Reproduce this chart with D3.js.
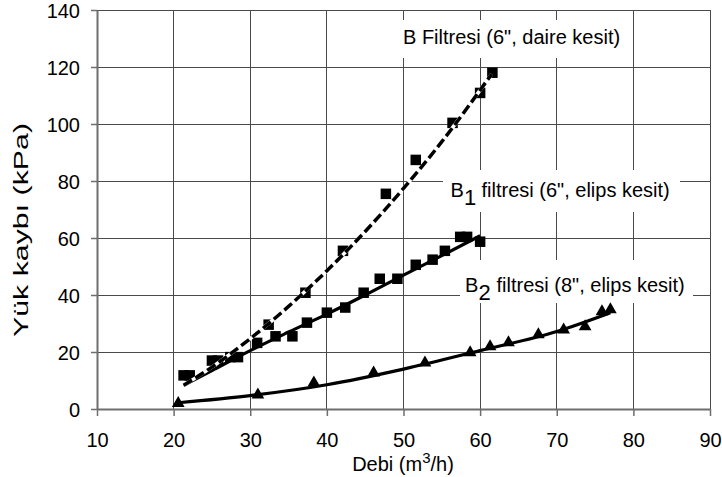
<!DOCTYPE html>
<html><head><meta charset="utf-8">
<script src="https://cdnjs.cloudflare.com/ajax/libs/d3/7.8.5/d3.min.js"></script>
<style>
body{margin:0;background:#fff;}
svg{display:block;font-family:"Liberation Sans",Arial,sans-serif;}
</style></head>
<body><svg id="c" width="722" height="477"></svg>
<script>
// ---- data ----
const xTicks = [10,20,30,40,50,60,70,80,90];
const yTicks = [0,20,40,60,80,100,120,140];

// B filtresi (6", daire kesit) - squares
const bX = [21.3, 25.0, 27.4, 32.4, 37.2, 42.1, 47.7, 51.6, 56.4, 60.0, 61.6];
const bY = [11.8, 17.0, 18.2, 29.6, 40.8, 55.5, 75.5, 87.4, 100.4, 110.9, 118.0];
// B fitted curve (dashed)
const bFitX = [21.3, 25, 30, 35, 40, 45, 50, 55, 61.5];
const bFitY = [8.3, 14.7, 24.7, 36.0, 48.5, 62.3, 77.4, 93.8, 117.5];

// B1 filtresi (6", elips kesit) - squares
const b1X = [22.1, 25.8, 28.4, 30.9, 33.3, 35.5, 37.4, 40.0, 42.4, 44.8, 46.9, 49.2, 51.6, 53.8, 55.4, 57.4, 58.3, 60.0];
const b1Y = [11.8, 17.0, 18.2, 23.2, 25.5, 25.5, 30.3, 33.8, 35.6, 40.8, 45.7, 45.7, 50.6, 52.4, 55.5, 60.4, 60.4, 58.7];
// B1 fitted curve (solid)
const b1FitX = [21.3, 25, 30, 35, 40, 45, 50, 55, 60];
const b1FitY = [8.3, 13.5, 20.5, 27.0, 33.3, 40.0, 47.0, 53.8, 60.8];

// B2 filtresi (8", elips kesit) - triangles
const b2X = [20.6, 31.0, 38.3, 46.1, 52.8, 58.7, 61.3, 63.7, 67.6, 70.9, 73.7, 75.9, 77.0];
const b2Y = [2.0, 5.0, 9.2, 12.7, 16.2, 19.8, 21.9, 23.3, 26.1, 27.8, 28.9, 34.2, 34.9];
// B2 fitted curve (solid)
const b2FitX = [20.6, 30, 40, 50, 60, 70, 77];
const b2FitY = [2.2, 4.7, 8.5, 14.0, 20.5, 27.2, 33.8];

// ---- drawing ----
const svg = d3.select("#c");
const L = 97, R = 710, T = 10, B = 409;
const x = d3.scaleLinear().domain([10,90]).range([L,R]);
const y = d3.scaleLinear().domain([0,140]).range([B,T]);
const zip = (a,b)=>a.map((v,i)=>[v,b[i]]);

// gridlines
const grid = svg.append("g").attr("stroke","#4a4a4a").attr("stroke-width",1).attr("shape-rendering","crispEdges");
grid.selectAll("line.h").data(yTicks.filter(d=>d>0)).join("line")
  .attr("x1",L).attr("x2",R).attr("y1",d=>y(d)).attr("y2",d=>y(d));
grid.selectAll("line.v").data(xTicks.filter(d=>d>10)).join("line")
  .attr("y1",T).attr("y2",B).attr("x1",d=>x(d)).attr("x2",d=>x(d));

// white boxes behind the labels
const boxes = [[397,20,233,38],[443,170,237,42],[460,260,233,43]];
svg.selectAll("rect.lb").data(boxes).join("rect")
  .attr("x",d=>d[0]).attr("y",d=>d[1]).attr("width",d=>d[2]).attr("height",d=>d[3]).attr("fill","#fff");

// axes
const xAxis = svg.append("g").attr("transform",`translate(0,${B})`)
  .call(d3.axisBottom(x).tickValues(xTicks).tickSize(7).tickPadding(17).tickSizeOuter(0));
const yAxis = svg.append("g").attr("transform",`translate(${L},0)`)
  .call(d3.axisLeft(y).tickValues(yTicks).tickSize(6).tickPadding(11).tickSizeOuter(0));
[xAxis,yAxis].forEach(g=>{
  g.select(".domain").attr("stroke","#6e6e6e").attr("stroke-width",2);
  g.selectAll(".tick line").attr("stroke","#6e6e6e").attr("stroke-width",1.5);
  g.selectAll("text").attr("font-size",20).attr("fill","#000").attr("font-family","Liberation Sans, Arial, sans-serif");
});
yAxis.selectAll("text").attr("dy","0.37em");

// axis titles
const xt = svg.append("text").attr("x",403).attr("y",471).attr("text-anchor","middle")
  .attr("font-size",20).attr("fill","#000");
xt.append("tspan").text("Debi (m");
xt.append("tspan").attr("font-size",15).attr("dy",-8).text("3");
xt.append("tspan").attr("dy",8).text("/h)");

svg.append("text").attr("transform","translate(28,230) rotate(-90)").attr("text-anchor","middle")
  .attr("font-size",20).attr("fill","#000")
  .attr("textLength",214).attr("lengthAdjust","spacingAndGlyphs").text("Yük kaybı (kPa)");

// series labels
svg.append("text").attr("x",403).attr("y",44).attr("font-size",20).attr("fill","#000")
  .text('B Filtresi (6", daire kesit)');
function subLabel(x0, yb, sub, xRest, rest){
  svg.append("text").attr("x",x0).attr("y",yb).attr("font-size",20).attr("fill","#000").text("B");
  svg.append("text").attr("x",x0+13.5).attr("y",yb+8).attr("font-size",22).attr("fill","#000").text(sub);
  svg.append("text").attr("x",xRest).attr("y",yb).attr("font-size",20).attr("fill","#000").text(rest);
}
subLabel(450.5, 197, "1", 481.5, 'filtresi (6", elips kesit)');
subLabel(465, 292, "2", 496.5, 'filtresi (8", elips kesit)');

// markers
const sq = 10.5;
svg.append("g").selectAll("rect").data(zip(bX,bY).concat(zip(b1X,b1Y))).join("rect")
  .attr("x",d=>x(d[0])-sq/2).attr("y",d=>y(d[1])-sq/2).attr("width",sq).attr("height",sq).attr("fill","#000");
const tri = d3.symbol().type(d3.symbolTriangle).size(70);
svg.append("g").selectAll("path").data(zip(b2X,b2Y)).join("path")
  .attr("d",tri).attr("transform",d=>`translate(${x(d[0])},${y(d[1])})`).attr("fill","#000");

// fitted curves
const line = d3.line().x(d=>x(d[0])).y(d=>y(d[1])).curve(d3.curveMonotoneX);
svg.append("path").attr("d",line(zip(b1FitX,b1FitY))).attr("fill","none").attr("stroke","#000").attr("stroke-width",3.2);
svg.append("path").attr("d",line(zip(b2FitX,b2FitY))).attr("fill","none").attr("stroke","#000").attr("stroke-width",3.2);
svg.append("path").attr("d",line(zip(bFitX,bFitY))).attr("fill","none").attr("stroke","#fff").attr("stroke-width",3.5);
svg.append("path").attr("d",line(zip(bFitX,bFitY))).attr("fill","none").attr("stroke","#000").attr("stroke-width",3.5)
  .attr("stroke-dasharray","10,4");
</script></body></html>
